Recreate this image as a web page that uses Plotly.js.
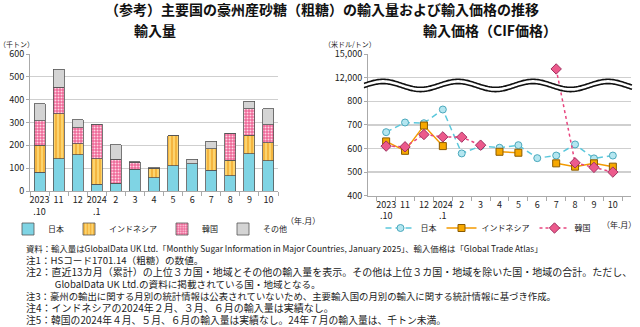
<!DOCTYPE html>
<html><head><meta charset="utf-8">
<script src="https://cdn.plot.ly/plotly-3.0.1.min.js"></script>
<style>body{margin:0;background:#fff}#c{width:640px;height:327px}</style>
</head><body><div id="c"></div>
<script>
// ---- data ----
const months = ['2023<br>.10','11','12','2024<br>.1','2','3','4','5','6','7','8','9','10'];
const volJapan = [83,142,158,29,34,95,57,111,120,91,66,164,132];
const volIndonesia = [117,196,48,112,0,0,43,132,0,95,69,80,79];
const volKorea = [107,117,72,150,105,31,0,0,0,0,118,116,80];
const volOther = [76,78,35,2,63,2,1,0,19,32,0,32,69];
const priceJapan = [669,710,707,765,579,610,603,614,559,570,617,558,570];
const priceIndonesia = [630,590,697,610,null,null,586,582,null,537,523,537,523];
const priceKorea = [610,607,659,649,648,614,null,null,null,13100,539,520,500];
const leftTicks = [0,100,200,300,400,500,600];
const rightTickVals = [400,500,600,700,800,12000,15000];

// broken axis mapping: values >= 12000 sit above the break
function brk(v){ if(v===null) return null; return v>=12000 ? 900+(v-12000)/30 : v; }

const F = '"Noto Sans CJK JP", "Noto Sans", sans-serif';
const lineCol = '#555';

const traces = [
 {type:'bar', name:'日本', x:months, y:volJapan, xaxis:'x', yaxis:'y', legend:'legend',
  marker:{color:'#7fd4e4', line:{color:lineCol,width:0.8}}},
 {type:'bar', name:'インドネシア', x:months, y:volIndonesia, xaxis:'x', yaxis:'y', legend:'legend',
  marker:{color:'#fcd46e', line:{color:lineCol,width:0.8}, pattern:{shape:'|', fgcolor:'#f0a020', bgcolor:'#fcd46e', size:4, solidity:0.3}}},
 {type:'bar', name:'韓国', x:months, y:volKorea, xaxis:'x', yaxis:'y', legend:'legend',
  marker:{color:'#f0709c', line:{color:lineCol,width:0.8}, pattern:{shape:'.', fgcolor:'#ffd6e4', bgcolor:'#ee6898', size:3, solidity:0.35}}},
 {type:'bar', name:'その他', x:months, y:volOther, xaxis:'x', yaxis:'y', legend:'legend',
  marker:{color:'#d4d4d4', line:{color:lineCol,width:0.8}}},
 {type:'scatter', mode:'lines+markers', name:'日本', x:months, y:priceJapan.map(brk), xaxis:'x2', yaxis:'y2', legend:'legend2',
  line:{color:'#5cc8dc', width:1.5, dash:'6px,4px'}, marker:{symbol:'circle', size:7, color:'#b4e6f0', line:{color:'#4aa8bc', width:1}}},
 {type:'scatter', mode:'lines+markers', name:'インドネシア', x:months, y:priceIndonesia.map(brk), xaxis:'x2', yaxis:'y2', legend:'legend2', connectgaps:false,
  line:{color:'#f39a00', width:1.5}, marker:{symbol:'square', size:7, color:'#f7a800', line:{color:'#8a5a00', width:1}}},
 {type:'scatter', mode:'lines+markers', name:'韓国', x:months, y:priceKorea.map(brk), xaxis:'x2', yaxis:'y2', legend:'legend2', connectgaps:false,
  line:{color:'#e8457f', width:1.5, dash:'dot'}, marker:{symbol:'diamond', size:8, color:'#ec5a8c', line:{color:'#a03060', width:1}}}
];

// wavy break lines (decoration)
function wy(px, cy){ return cy - 4*Math.cos(2*Math.PI*(px-383)/75); }
function P(px, py){ return (px/640).toFixed(5)+','+((327-py)/327).toFixed(5); }
function wave(cy){
  let d='';
  for(let px=364; px<=632; px+=1){ d += (d?' L':'M') + P(px, wy(px,cy)); }
  return d;
}
let fill='';
for(let px=364; px<=632; px+=1){ fill+=(fill?' L':'M')+P(px, wy(px,83.3)); }
for(let px=632; px>=364; px-=1){ fill+=' L'+P(px, wy(px,87.6)); }
fill+=' Z';

const axFont = {family:F, size:9, color:'#222'};
const notes = [
 '資料：輸入量はGlobalData UK Ltd.「Monthly Sugar Information in Major Countries, January 2025」、輸入価格は「Global Trade Atlas」',
 '注1：HSコード1701.14（粗糖）の数値。',
 '注2：直近13カ月（累計）の上位３カ国・地域とその他の輸入量を表示。その他は上位３カ国・地域を除いた国・地域の合計。ただし、',
 '　　　GlobalData UK Ltd.の資料に掲載されている国・地域となる。',
 '注3：豪州の輸出に関する月別の統計情報は公表されていないため、主要輸入国の月別の輸入に関する統計情報に基づき作成。',
 '注4：インドネシアの2024年２月、３月、６月の輸入量は実績なし。',
 '注5：韓国の2024年４月、５月、６月の輸入量は実績なし。24年７月の輸入量は、千トン未満。'
];
const noteSizes = [8.4, 9.6, 10, 9.6, 9.4, 10, 9.8];
const notesText = notes.map((t,i)=>'<span style="font-size:'+noteSizes[i]+'px">'+t+'</span>').join('<br>');
const ann = [
 {text:'<b>（参考）主要国の豪州産砂糖（粗糖）の輸入量および輸入価格の推移</b>', x:322/640, y:(327-9)/327, font:{family:F,size:14,color:'#111'}},
 {text:'<b>輸入量</b>', x:155/640, y:(327-30)/327, font:{family:F,size:14,color:'#111'}},
 {text:'<b>輸入価格（CIF価格）</b>', x:490/640, y:(327-30)/327, font:{family:F,size:14,color:'#111'}},
 {text:'（千トン）', x:16/640, y:(327-44)/327, font:{family:F,size:7,color:'#222'}},
 {text:'（米ドル/トン）', x:350/640, y:(327-44)/327, font:{family:F,size:7,color:'#222'}},
 {text:'（年.月）', x:303/640, y:(327-220)/327, font:{family:F,size:8,color:'#222'}},
 {text:'（年.月）', x:619/640, y:(327-224)/327, font:{family:F,size:8,color:'#222'}},
 {text:notesText, x:24/640, y:(327-247)/327, xanchor:'left', yanchor:'middle', align:'left', valign:'top', font:{family:F,size:9.23,color:'#222'}, _top:true}
];
ann.forEach(a=>{ a.xref='paper'; a.yref='paper'; a.showarrow=false; if(!a.xanchor) a.xanchor='center'; if(!a.yanchor) a.yanchor='middle'; delete a._top; });
// the notes block: anchor its top so the first line's centre sits near y=247
ann[ann.length-1].yanchor='top';
ann[ann.length-1].y=(327-240)/327;

const layout = {
  width:640, height:327, margin:{l:0,r:0,t:0,b:0},
  paper_bgcolor:'#fff', plot_bgcolor:'#fff',
  font:{family:F, size:9, color:'#222'},
  barmode:'stack', bargap:0.42,
  xaxis:{domain:[30/640,278/640], anchor:'y', type:'category', tickangle:0, showline:true, linecolor:'#aaa', ticks:'outside', tickson:'boundaries', ticklen:4, tickcolor:'#aaa', tickfont:axFont, showgrid:false},
  yaxis:{domain:[136/327,273/327], anchor:'x', range:[0,600], tickvals:leftTicks, showline:true, linecolor:'#aaa', ticks:'outside', ticklen:3, tickcolor:'#aaa', gridcolor:'#cfcfcf', gridwidth:1.3, tickfont:axFont, zeroline:false},
  xaxis2:{domain:[368/640,631/640], anchor:'y2', type:'category', tickangle:0, showline:true, linecolor:'#aaa', ticks:'outside', tickson:'boundaries', ticklen:4, tickcolor:'#aaa', tickfont:axFont, showgrid:false},
  yaxis2:{domain:[131.3/327,273/327], anchor:'x2', range:[400,1000], tickvals:rightTickVals.map(brk), ticktext:rightTickVals.map(v=>v.toLocaleString('en-US')), showline:true, linecolor:'#aaa', ticks:'outside', ticklen:3, tickcolor:'#aaa', gridcolor:'#cfcfcf', gridwidth:1.3, tickfont:axFont, zeroline:false},
  legend:{orientation:'h', x:150/640, y:(327-229)/327, xanchor:'center', yanchor:'middle', font:{family:F,size:8}, itemwidth:30, traceorder:'normal', bgcolor:'rgba(0,0,0,0)'},
  legend2:{orientation:'h', x:488/640, y:(327-228)/327, xanchor:'center', yanchor:'middle', font:{family:F,size:8}, itemwidth:30, traceorder:'normal', bgcolor:'rgba(0,0,0,0)'},
  shapes:[
   {type:'path', xref:'paper', yref:'paper', path:fill, fillcolor:'#fff', line:{width:0}},
   {type:'path', xref:'paper', yref:'paper', path:wave(83.3), line:{color:'#111', width:1.6}},
   {type:'path', xref:'paper', yref:'paper', path:wave(87.6), line:{color:'#111', width:1.6}}
  ],
  annotations:ann,
  showlegend:true
};
Plotly.newPlot('c', traces, layout, {staticPlot:true, displayModeBar:false});
</script></body></html>
